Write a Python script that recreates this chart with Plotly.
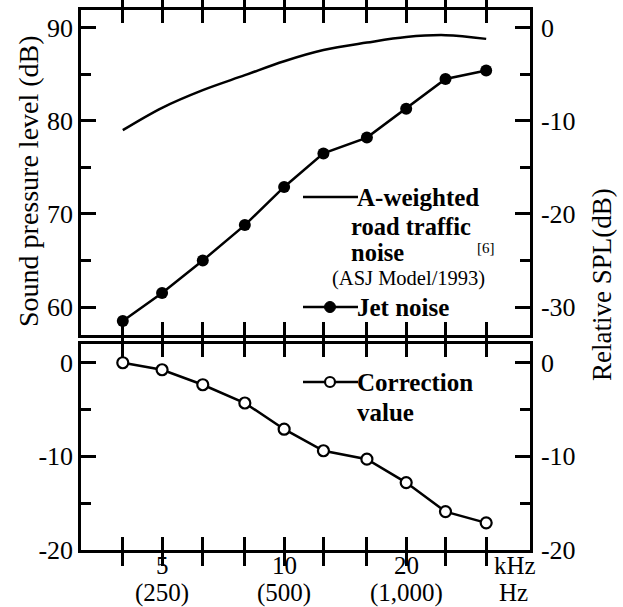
import math
import plotly.graph_objects as go

# ---------------- data ----------------
freq_khz = [4, 5, 6.3, 8, 10, 12.5, 16, 20, 25, 31.5]
traffic_db = [79.0, 81.4, 83.3, 84.9, 86.4, 87.6, 88.4, 89.0, 89.2, 88.8]
jet_db = [58.5, 61.5, 65.0, 68.8, 72.9, 76.5, 78.2, 81.3, 84.5, 85.4]
correction_db = [0.0, -0.75, -2.35, -4.3, -7.1, -9.4, -10.3, -12.8, -15.9, -17.1]

x_label_vals = [5, 10, 20]
x_label_khz = ["5", "10", "20"]
x_label_hz = ["(250)", "(500)", "(1,000)"]

top_left_ticks = [60, 70, 80, 90]
top_right_ticks = [0, -10, -20, -30]
bottom_ticks = [0, -10, -20]

# ---------------- layout helpers ----------------
W, H = 623, 607
PL, PR, PT, PB = 81, 530, 10, 550
FONT = "Liberation Serif, Times New Roman, DejaVu Serif, serif"
BLACK = "black"
LW = 2.5


def px(x):
    return (x - PL) / (PR - PL)


def py(y):
    return (PB - y) / (PB - PT)


top_domain = [py(335), 1.0]
bot_domain = [0.0, py(344)]
x_range = [math.log10(3.155), math.log10(40.4)]
top_range = [57.0, 91.9]
top_offset = 90.0
bot_range = [-20.0, 2.0]


def hy(v):
    return str(v).replace("\u2212", "-")


fig = go.Figure()

fig.add_trace(go.Scatter(
    x=freq_khz, y=traffic_db, mode="lines",
    line=dict(color=BLACK, width=LW, shape="spline"),
    xaxis="x", yaxis="y", showlegend=False, hoverinfo="skip"))
fig.add_trace(go.Scatter(
    x=freq_khz, y=jet_db, mode="lines+markers",
    line=dict(color=BLACK, width=LW),
    marker=dict(color=BLACK, size=12),
    xaxis="x", yaxis="y", showlegend=False, hoverinfo="skip"))
fig.add_trace(go.Scatter(
    x=freq_khz, y=correction_db, mode="lines+markers",
    line=dict(color=BLACK, width=LW),
    marker=dict(color="white", size=11, line=dict(color=BLACK, width=2.2)),
    xaxis="x2", yaxis="y2", showlegend=False, hoverinfo="skip"))
# invisible anchors for the right-hand axes
fig.add_trace(go.Scatter(x=[freq_khz[0]], y=[0], mode="markers", marker=dict(opacity=0),
                         xaxis="x", yaxis="y3", showlegend=False, hoverinfo="skip"))
fig.add_trace(go.Scatter(x=[freq_khz[0]], y=[0], mode="markers", marker=dict(opacity=0),
                         xaxis="x2", yaxis="y4", showlegend=False, hoverinfo="skip"))

common_x = dict(type="log", range=x_range, tickmode="array", tickvals=freq_khz,
                ticks="inside", ticklen=13, tickwidth=LW, tickcolor=BLACK,
                showline=True, linewidth=LW, linecolor=BLACK, mirror="allticks",
                showgrid=False, zeroline=False, automargin=False,
                showticklabels=False)
common_y = dict(ticks="inside", ticklen=15, tickwidth=LW, tickcolor=BLACK,
                showline=True, linewidth=LW, linecolor=BLACK,
                showgrid=False, zeroline=False, tickmode="array", automargin=False,
                minor=dict(dtick=5, tick0=0, ticks="inside", ticklen=10,
                           tickwidth=LW, tickcolor=BLACK),
                tickfont=dict(family=FONT, size=26, color=BLACK))

fig.update_layout(
    width=W, height=H, autosize=False,
    margin=dict(l=PL, r=W - PR, t=PT, b=H - PB, pad=0),
    paper_bgcolor="white", plot_bgcolor="white",
    font=dict(family=FONT, color=BLACK),
    showlegend=False,
    xaxis=dict(common_x, anchor="y", domain=[0, 1]),
    xaxis2=dict(common_x, anchor="y2", domain=[0, 1]),
    yaxis=dict(common_y, domain=top_domain, anchor="x", range=top_range,
               tickvals=top_left_ticks, ticktext=[hy(v) for v in top_left_ticks]),
    yaxis3=dict(common_y, overlaying="y", side="right", anchor="x",
                range=[top_range[0] - top_offset, top_range[1] - top_offset],
                tickvals=top_right_ticks, ticktext=[hy(v) for v in top_right_ticks],
                ticklabelstandoff=3),
    yaxis2=dict(common_y, domain=bot_domain, anchor="x2", range=bot_range,
                tickvals=bottom_ticks, ticktext=[hy(v) for v in bottom_ticks]),
    yaxis4=dict(common_y, overlaying="y2", side="right", anchor="x2", range=bot_range,
                tickvals=bottom_ticks, ticktext=[hy(v) for v in bottom_ticks],
                ticklabelstandoff=3),
)


def note(text, x, y, size=25, xanchor="left", angle=0):
    fig.add_annotation(text=text, x=px(x), y=py(y), xref="paper", yref="paper",
                       xanchor=xanchor, yanchor="middle", showarrow=False,
                       textangle=angle, borderpad=0,
                       font=dict(family=FONT, size=size, color=BLACK))


# x tick labels (placed on the log axis through its own scale)
for v, k, hz in zip(x_label_vals, x_label_khz, x_label_hz):
    for txt, yy in ((k, 565), (hz, 593)):
        fig.add_annotation(text=txt, x=math.log10(v), xref="x2", y=py(yy), yref="paper",
                           xanchor="center", yanchor="middle", showarrow=False,
                           borderpad=0, font=dict(family=FONT, size=25, color=BLACK))

# axis titles
note("Sound pressure level (dB)", 28, 181, size=28, xanchor="center", angle=-90)
note("Relative SPL(dB)", 602, 285, size=27, xanchor="center", angle=-90)
# unit labels
note("kHz", 515, 565, size=25, xanchor="center")
note("Hz", 513, 592, size=25, xanchor="center")

# legend texts
note("<b>A-weighted</b>", 356, 197, size=25)
note("<b>road traffic</b>", 350, 226, size=24.5)
note("<b>noise</b>", 350, 253, size=24.5)
note("(ASJ Model/1993)", 331, 278, size=20.5)
note("[6]", 476, 248, size=15)
note("<b>Jet noise</b>", 356, 307, size=25)
note("<b>Correction</b>", 356, 382, size=25)
note("<b>value</b>", 356, 413, size=25)

# legend keys
for yk in (197, 307, 382):
    fig.add_shape(type="line", xref="paper", yref="paper",
                  x0=px(303), x1=px(358), y0=py(yk), y1=py(yk),
                  line=dict(color=BLACK, width=LW))
r = 5.5
fig.add_shape(type="circle", xref="paper", yref="paper",
              x0=px(330 - r), x1=px(330 + r), y0=py(307 + r), y1=py(307 - r),
              fillcolor=BLACK, line=dict(color=BLACK, width=1))
r = 5
fig.add_shape(type="circle", xref="paper", yref="paper",
              x0=px(330 - r), x1=px(330 + r), y0=py(382 + r), y1=py(382 - r),
              fillcolor="white", line=dict(color=BLACK, width=2.2))

fig.write_html(
    "out.html",
    config={"displayModeBar": False},
    post_script="document.body.style.margin='0';document.body.style.padding='0';",
)
